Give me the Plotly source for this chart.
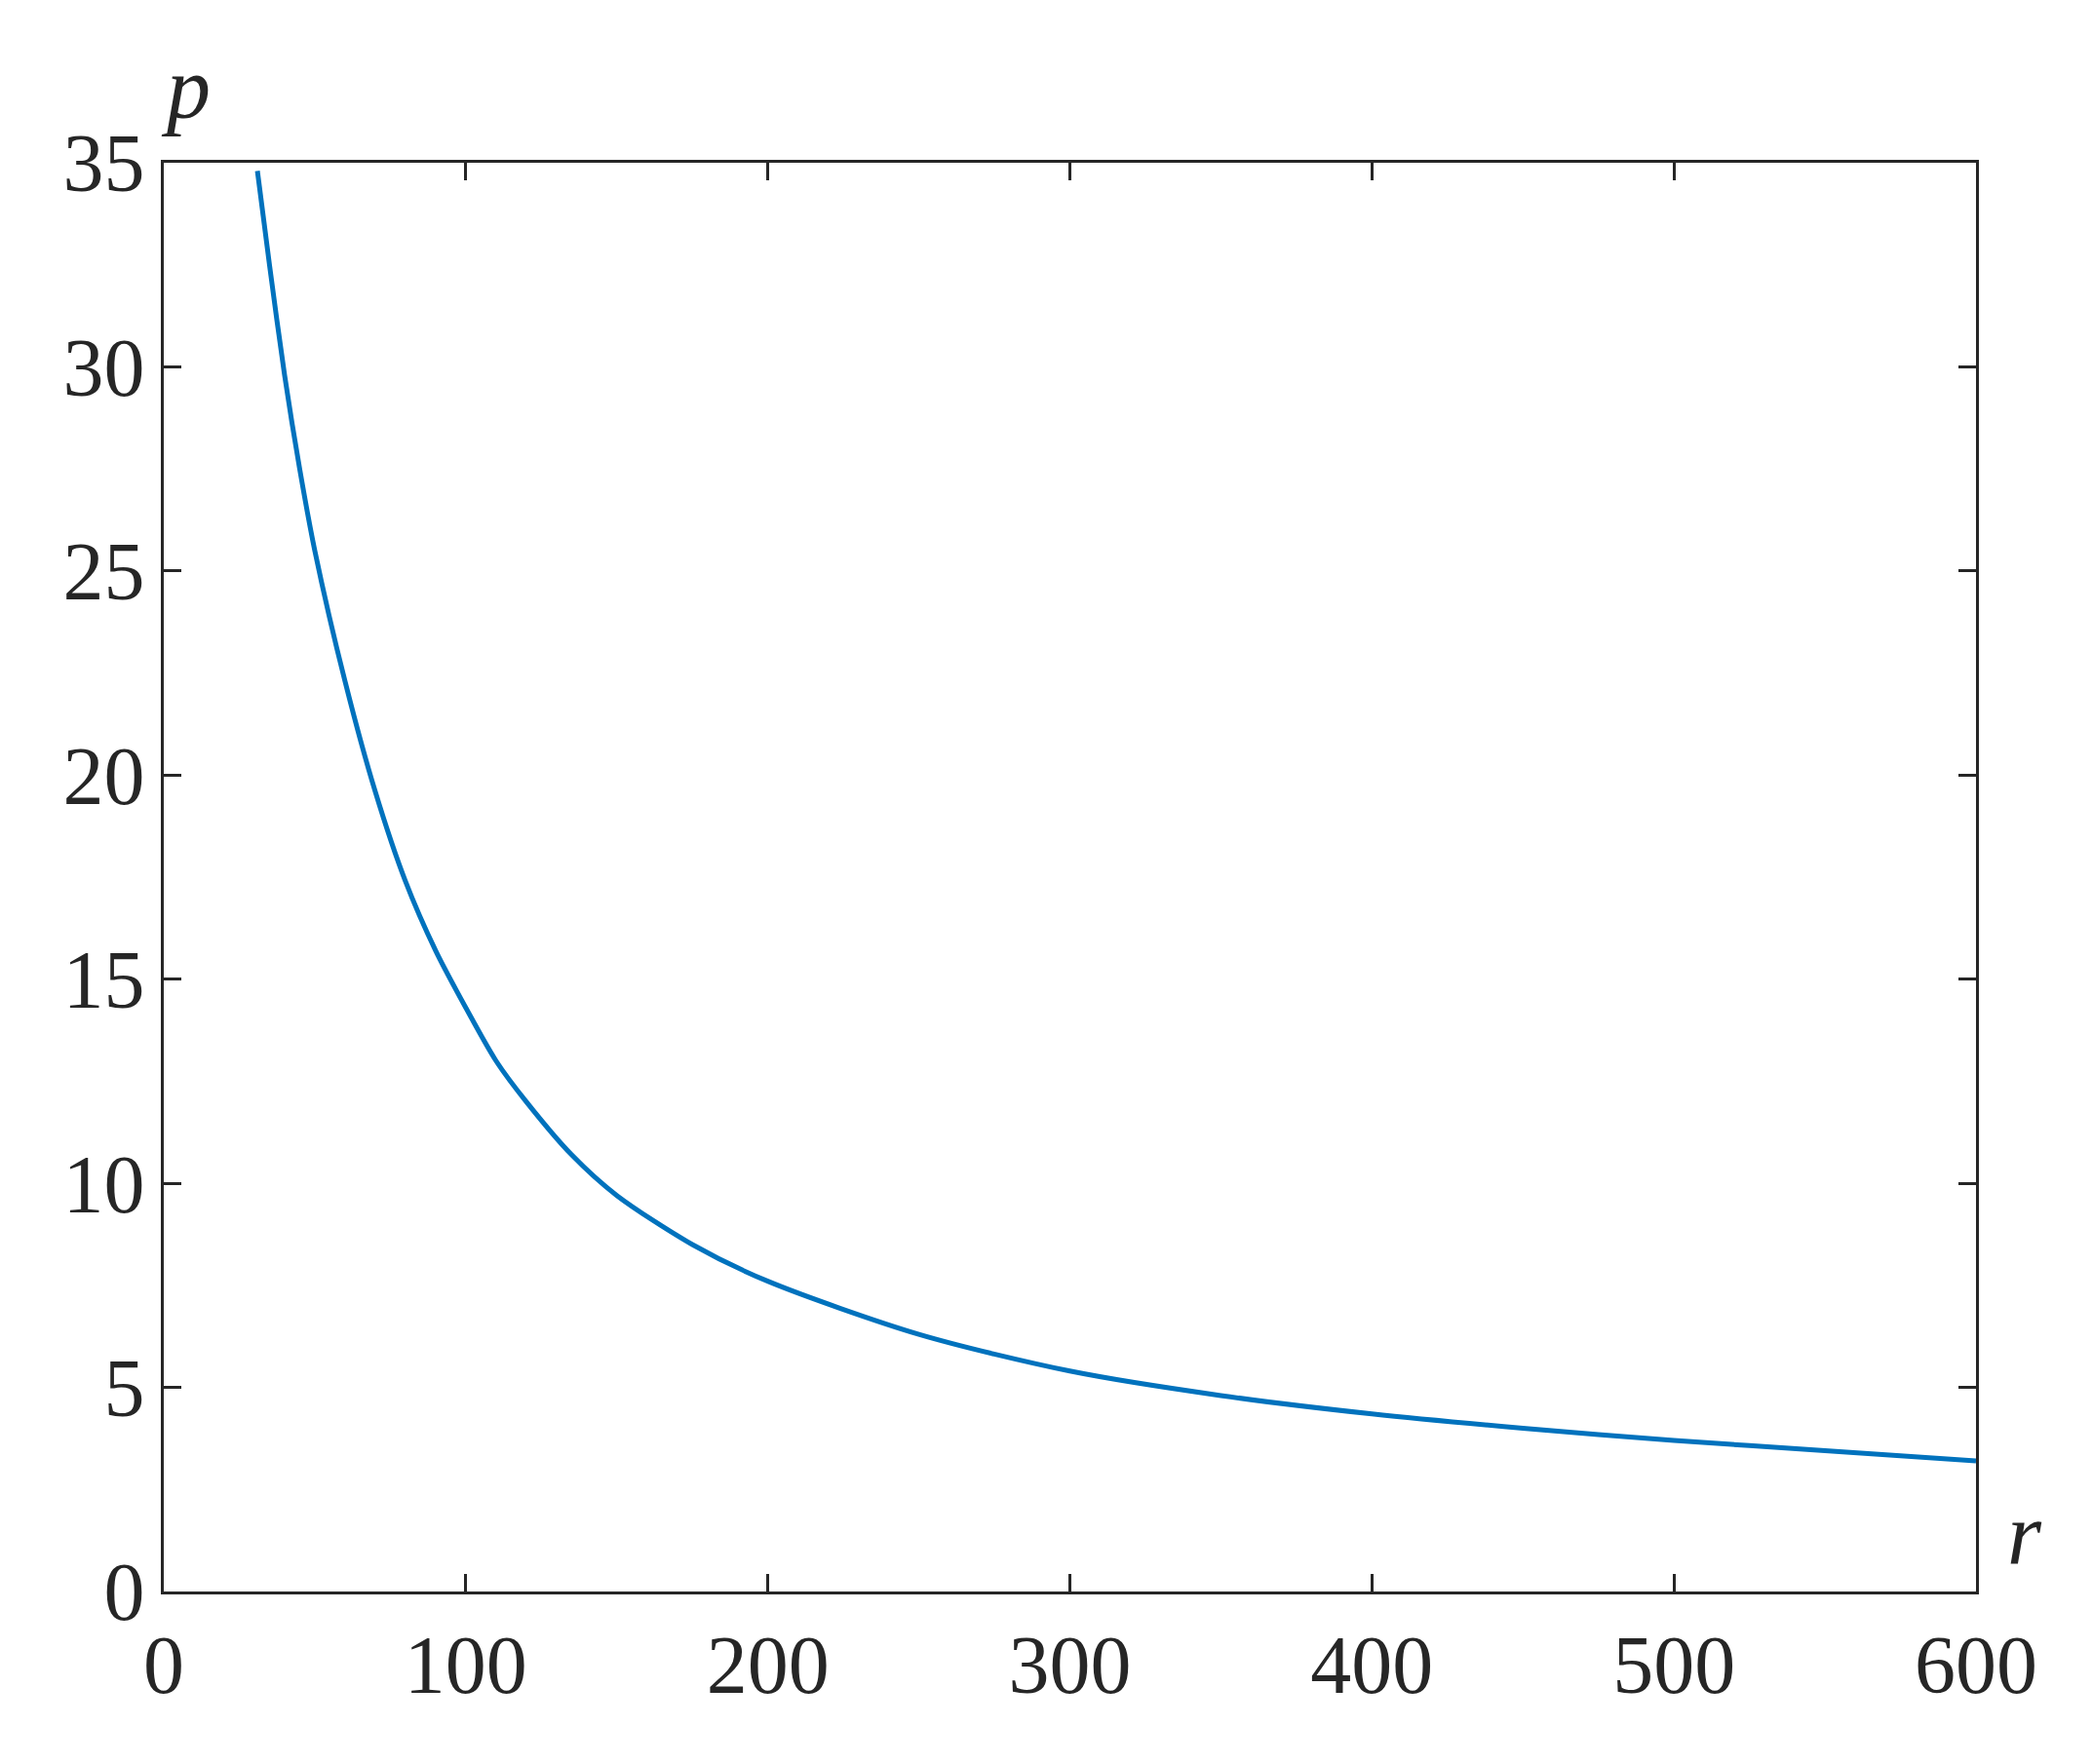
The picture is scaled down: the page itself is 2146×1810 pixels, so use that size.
import plotly.graph_objects as go

r = [31, 35, 40, 45, 50, 60, 70, 80, 90, 100, 110, 120, 135, 150, 175, 200, 250, 300, 350, 400, 450, 500, 550, 600]
p = [34.8, 32.5, 29.8, 27.5, 25.5, 22.3, 19.6, 17.4, 15.7, 14.3, 13.0, 12.0, 10.7, 9.7, 8.5, 7.6, 6.3, 5.4, 4.8, 4.35, 4.0, 3.7, 3.45, 3.2]

fig = go.Figure()
fig.add_trace(go.Scatter(x=r, y=p, mode="lines", line=dict(color="#0072BD", width=5, shape="spline", smoothing=0.8)))

axis_common = dict(showgrid=False, zeroline=False, showline=True, mirror="ticks",
                   linecolor="#262626", linewidth=2.5, ticks="inside", ticklen=18,
                   tickwidth=2.5, tickcolor="#262626",
                   tickfont=dict(family="Liberation Serif", size=84, color="#262626"))

fig.update_layout(
    width=2146, height=1810, showlegend=False,
    plot_bgcolor="white", paper_bgcolor="white",
    margin=dict(l=160, r=127, t=159, b=185),
    xaxis=dict(range=[0, 600], tickvals=[0, 100, 200, 300, 400, 500, 600], **axis_common),
    yaxis=dict(range=[0, 35], tickvals=[0, 5, 10, 15, 20, 25, 30, 35], **axis_common),
)
fig.add_annotation(text="<i>p</i>", xref="paper", yref="paper", x=0.012, y=1.0, yshift=25,
                   xanchor="center", yanchor="bottom", showarrow=False,
                   font=dict(family="Liberation Serif", size=90, color="#262626"))
fig.add_annotation(text="<i>r</i>", xref="paper", yref="paper", x=1.0, y=0.0, xshift=50, yshift=8,
                   xanchor="center", yanchor="bottom", showarrow=False,
                   font=dict(family="Liberation Serif", size=90, color="#262626"))

fig.write_html("out.html")
